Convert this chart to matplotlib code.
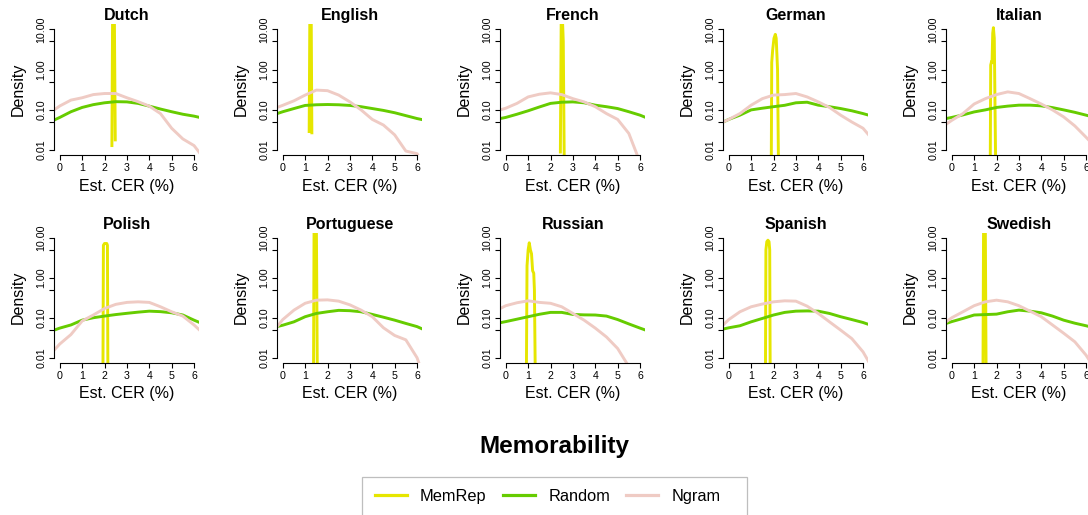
import matplotlib
matplotlib.use("Agg")
import matplotlib.pyplot as plt
from matplotlib.lines import Line2D
from matplotlib.patches import Rectangle

plt.rcParams['font.family'] = ['Liberation Sans', 'DejaVu Sans']

languages = ["Dutch", "English", "French", "German", "Italian",
             "Polish", "Portuguese", "Russian", "Spanish", "Swedish"]

series_names = ["MemRep", "Random", "Ngram"]
series_colors = ["#E6E600", "#66CC00", "#EFCBC4"]

x_grid = [-0.25, 0, 0.5, 1, 1.5, 2, 2.5, 3, 3.5, 4, 4.5, 5, 5.5, 6, 6.25]

random_density = [
    [0.056, 0.065, 0.090, 0.115, 0.135, 0.150, 0.160, 0.158, 0.145, 0.124, 0.105, 0.090, 0.078, 0.070, 0.065],  # Dutch
    [0.081, 0.090, 0.108, 0.129, 0.134, 0.136, 0.134, 0.129, 0.120, 0.108, 0.097, 0.085, 0.072, 0.061, 0.057],  # English
    [0.061, 0.065, 0.078, 0.095, 0.118, 0.145, 0.155, 0.158, 0.150, 0.131, 0.120, 0.108, 0.090, 0.074, 0.065],  # French
    [0.050, 0.058, 0.074, 0.100, 0.110, 0.120, 0.130, 0.150, 0.155, 0.131, 0.120, 0.108, 0.095, 0.081, 0.074],  # German
    [0.061, 0.065, 0.075, 0.089, 0.100, 0.115, 0.124, 0.131, 0.131, 0.126, 0.114, 0.100, 0.087, 0.074, 0.068],  # Italian
    [0.049, 0.055, 0.066, 0.087, 0.100, 0.110, 0.120, 0.129, 0.138, 0.146, 0.142, 0.133, 0.117, 0.087, 0.076],  # Polish
    [0.060, 0.065, 0.079, 0.106, 0.128, 0.141, 0.153, 0.150, 0.141, 0.121, 0.103, 0.087, 0.072, 0.060, 0.052],  # Portuguese
    [0.075, 0.080, 0.092, 0.106, 0.122, 0.136, 0.136, 0.121, 0.118, 0.117, 0.110, 0.090, 0.070, 0.055, 0.049],  # Russian
    [0.052, 0.056, 0.063, 0.079, 0.096, 0.117, 0.136, 0.146, 0.148, 0.146, 0.128, 0.106, 0.090, 0.076, 0.068],  # Spanish
    [0.072, 0.080, 0.096, 0.117, 0.120, 0.123, 0.141, 0.155, 0.146, 0.133, 0.110, 0.087, 0.073, 0.063, 0.058],  # Swedish
]

ngram_density = [
    [0.100, 0.125, 0.175, 0.200, 0.240, 0.255, 0.255, 0.200, 0.160, 0.124, 0.081, 0.035, 0.019, 0.013, 0.0086],  # Dutch
    [0.115, 0.130, 0.168, 0.233, 0.310, 0.300, 0.233, 0.158, 0.100, 0.058, 0.042, 0.024, 0.0095, 0.0082, 0.005],  # English
    [0.100, 0.110, 0.145, 0.210, 0.245, 0.265, 0.240, 0.190, 0.158, 0.120, 0.081, 0.058, 0.026, 0.005, 0.003],  # French
    [0.050, 0.058, 0.081, 0.131, 0.190, 0.233, 0.240, 0.255, 0.210, 0.158, 0.115, 0.074, 0.050, 0.035, 0.024],  # German
    [0.044, 0.055, 0.081, 0.140, 0.190, 0.240, 0.280, 0.255, 0.190, 0.140, 0.100, 0.067, 0.040, 0.021, 0.015],  # Italian
    [0.0155, 0.022, 0.038, 0.083, 0.117, 0.170, 0.216, 0.242, 0.250, 0.242, 0.188, 0.141, 0.110, 0.066, 0.049],  # Polish
    [0.060, 0.090, 0.155, 0.230, 0.275, 0.280, 0.260, 0.210, 0.155, 0.106, 0.056, 0.036, 0.028, 0.010, 0.004],  # Portuguese
    [0.170, 0.200, 0.237, 0.265, 0.242, 0.230, 0.188, 0.128, 0.087, 0.055, 0.033, 0.017, 0.006, 0.002, 0.001],  # Russian
    [0.066, 0.090, 0.141, 0.188, 0.220, 0.250, 0.265, 0.260, 0.195, 0.128, 0.079, 0.049, 0.030, 0.014, 0.008],  # Spanish
    [0.079, 0.100, 0.141, 0.200, 0.250, 0.275, 0.250, 0.200, 0.146, 0.106, 0.066, 0.041, 0.025, 0.0116, 0.007],  # Swedish
]

memrep_x = [
    [2.33, 2.36, 2.40, 2.44, 2.48],
    [1.18, 1.21, 1.24, 1.27, 1.30],
    [2.44, 2.48, 2.53, 2.57, 2.61],
    [1.90, 1.92, 1.96, 2.02, 2.08, 2.12, 2.18, 2.22],
    [1.72, 1.74, 1.78, 1.80, 1.83, 1.86, 1.90, 1.96],
    [1.93, 1.95, 2.00, 2.05, 2.10, 2.13, 2.15],
    [1.37, 1.40, 1.45, 1.50, 1.55],
    [0.92, 0.95, 1.00, 1.05, 1.10, 1.15, 1.20, 1.25, 1.28, 1.32],
    [1.64, 1.66, 1.70, 1.75, 1.80, 1.83, 1.85],
    [1.39, 1.42, 1.46, 1.50, 1.54],
]
memrep_density = [
    [0.013, 20, 30, 20, 0.018],
    [0.029, 25, 30, 25, 0.027],
    [0.009, 30, 20, 5, 0.008],
    [0.005, 1.5, 3, 6, 7.5, 6, 1, 0.005],
    [0.005, 1.3, 1.6, 1.5, 8, 11, 6, 0.005],
    [0.005, 6.5, 7.2, 7.2, 7.2, 6.5, 0.005],
    [0.001, 30, 40, 30, 0.001],
    [0.003, 2, 5, 7.5, 5, 4, 1.5, 1.3, 0.5, 0.003],
    [0.005, 5, 8, 8.7, 8, 5, 0.005],
    [0.001, 15, 20, 15, 0.001],
]

x_ticks = [0, 1, 2, 3, 4, 5, 6]
y_major = [0.01, 0.1, 1, 10]
y_major_labels = ["0.01", "0.10", "1.00", "10.00"]
y_minor = [0.05, 0.5, 5]

W, H = 1088, 515
fig = plt.figure(figsize=(W / 100, H / 100), dpi=100)

col_left = [54.4 + 223 * c for c in range(5)]
ax_w = 145.0
row_top = [24.5, 233.0]
row_bot = [155.0, 362.5]
lw = 2.1

for i, lang in enumerate(languages):
    r, c = divmod(i, 5)
    left = col_left[c] / W
    bottom = 1 - row_bot[r] / H
    height = (row_bot[r] - row_top[r]) / H
    ax = fig.add_axes([left, bottom, ax_w / W, height])
    ax.set_yscale("log")
    ax.plot(memrep_x[i], memrep_density[i], color=series_colors[0], lw=lw, solid_joinstyle="round")
    ax.plot(x_grid, random_density[i], color=series_colors[1], lw=lw)
    ax.plot(x_grid, ngram_density[i], color=series_colors[2], lw=lw)
    ax.set_xlim(-0.24, 6.24)
    ax.set_ylim(10 ** -2.12, 10 ** 1.12)
    for s in ["top", "right"]:
        ax.spines[s].set_visible(False)
    ax.spines["left"].set_bounds(0.01, 10)
    ax.spines["bottom"].set_bounds(0, 6)
    ax.spines["left"].set_linewidth(0.8)
    ax.spines["bottom"].set_linewidth(0.8)
    ax.set_xticks(x_ticks)
    ax.set_xticklabels([str(t) for t in x_ticks])
    ax.set_yticks(y_major)
    ax.set_yticklabels(y_major_labels, rotation=90, va="center")
    ax.set_yticks(y_minor, minor=True)
    ax.yaxis.set_minor_formatter(plt.NullFormatter())
    ax.tick_params(axis="both", which="both", length=3.6, width=0.8, labelsize=7.7, color="black")
    ax.tick_params(axis="x", pad=2.5)
    ax.tick_params(axis="y", pad=2)
    ax.set_title(lang, fontsize=11.5, fontweight="bold", pad=3)
    ax.set_xlabel("Est. CER (%)", fontsize=11.5)
    ax.set_ylabel("Density", fontsize=11.5)
    ax.xaxis.set_label_coords(0.5, -0.185)
    ax.yaxis.set_label_coords(-0.196, 0.5)
    ax.set_facecolor("none")

fig.text(554 / W, 1 - 447 / H, "Memorability", ha="center", va="center",
         fontsize=17.5, fontweight="bold")

# legend frame (R-style box, bottom cut by the figure edge)
fig.patches.append(Rectangle((362 / W, 1 - 525 / H), (747 - 362) / W, (525 - 476.7) / H,
                             transform=fig.transFigure, fill=False,
                             edgecolor="#BEBEBE", linewidth=0.9, clip_on=False))

handles = [Line2D([], [], color=col, lw=2.3) for col in series_colors]
fig.legend(handles, series_names, loc="center left",
           bbox_to_anchor=(375 / W, 1 - 496.7 / H), ncol=3, frameon=False,
           fontsize=11.8, handlelength=1.95, handletextpad=0.8,
           columnspacing=1.0, borderpad=0, borderaxespad=0)

fig.savefig("out.png", dpi=100)
